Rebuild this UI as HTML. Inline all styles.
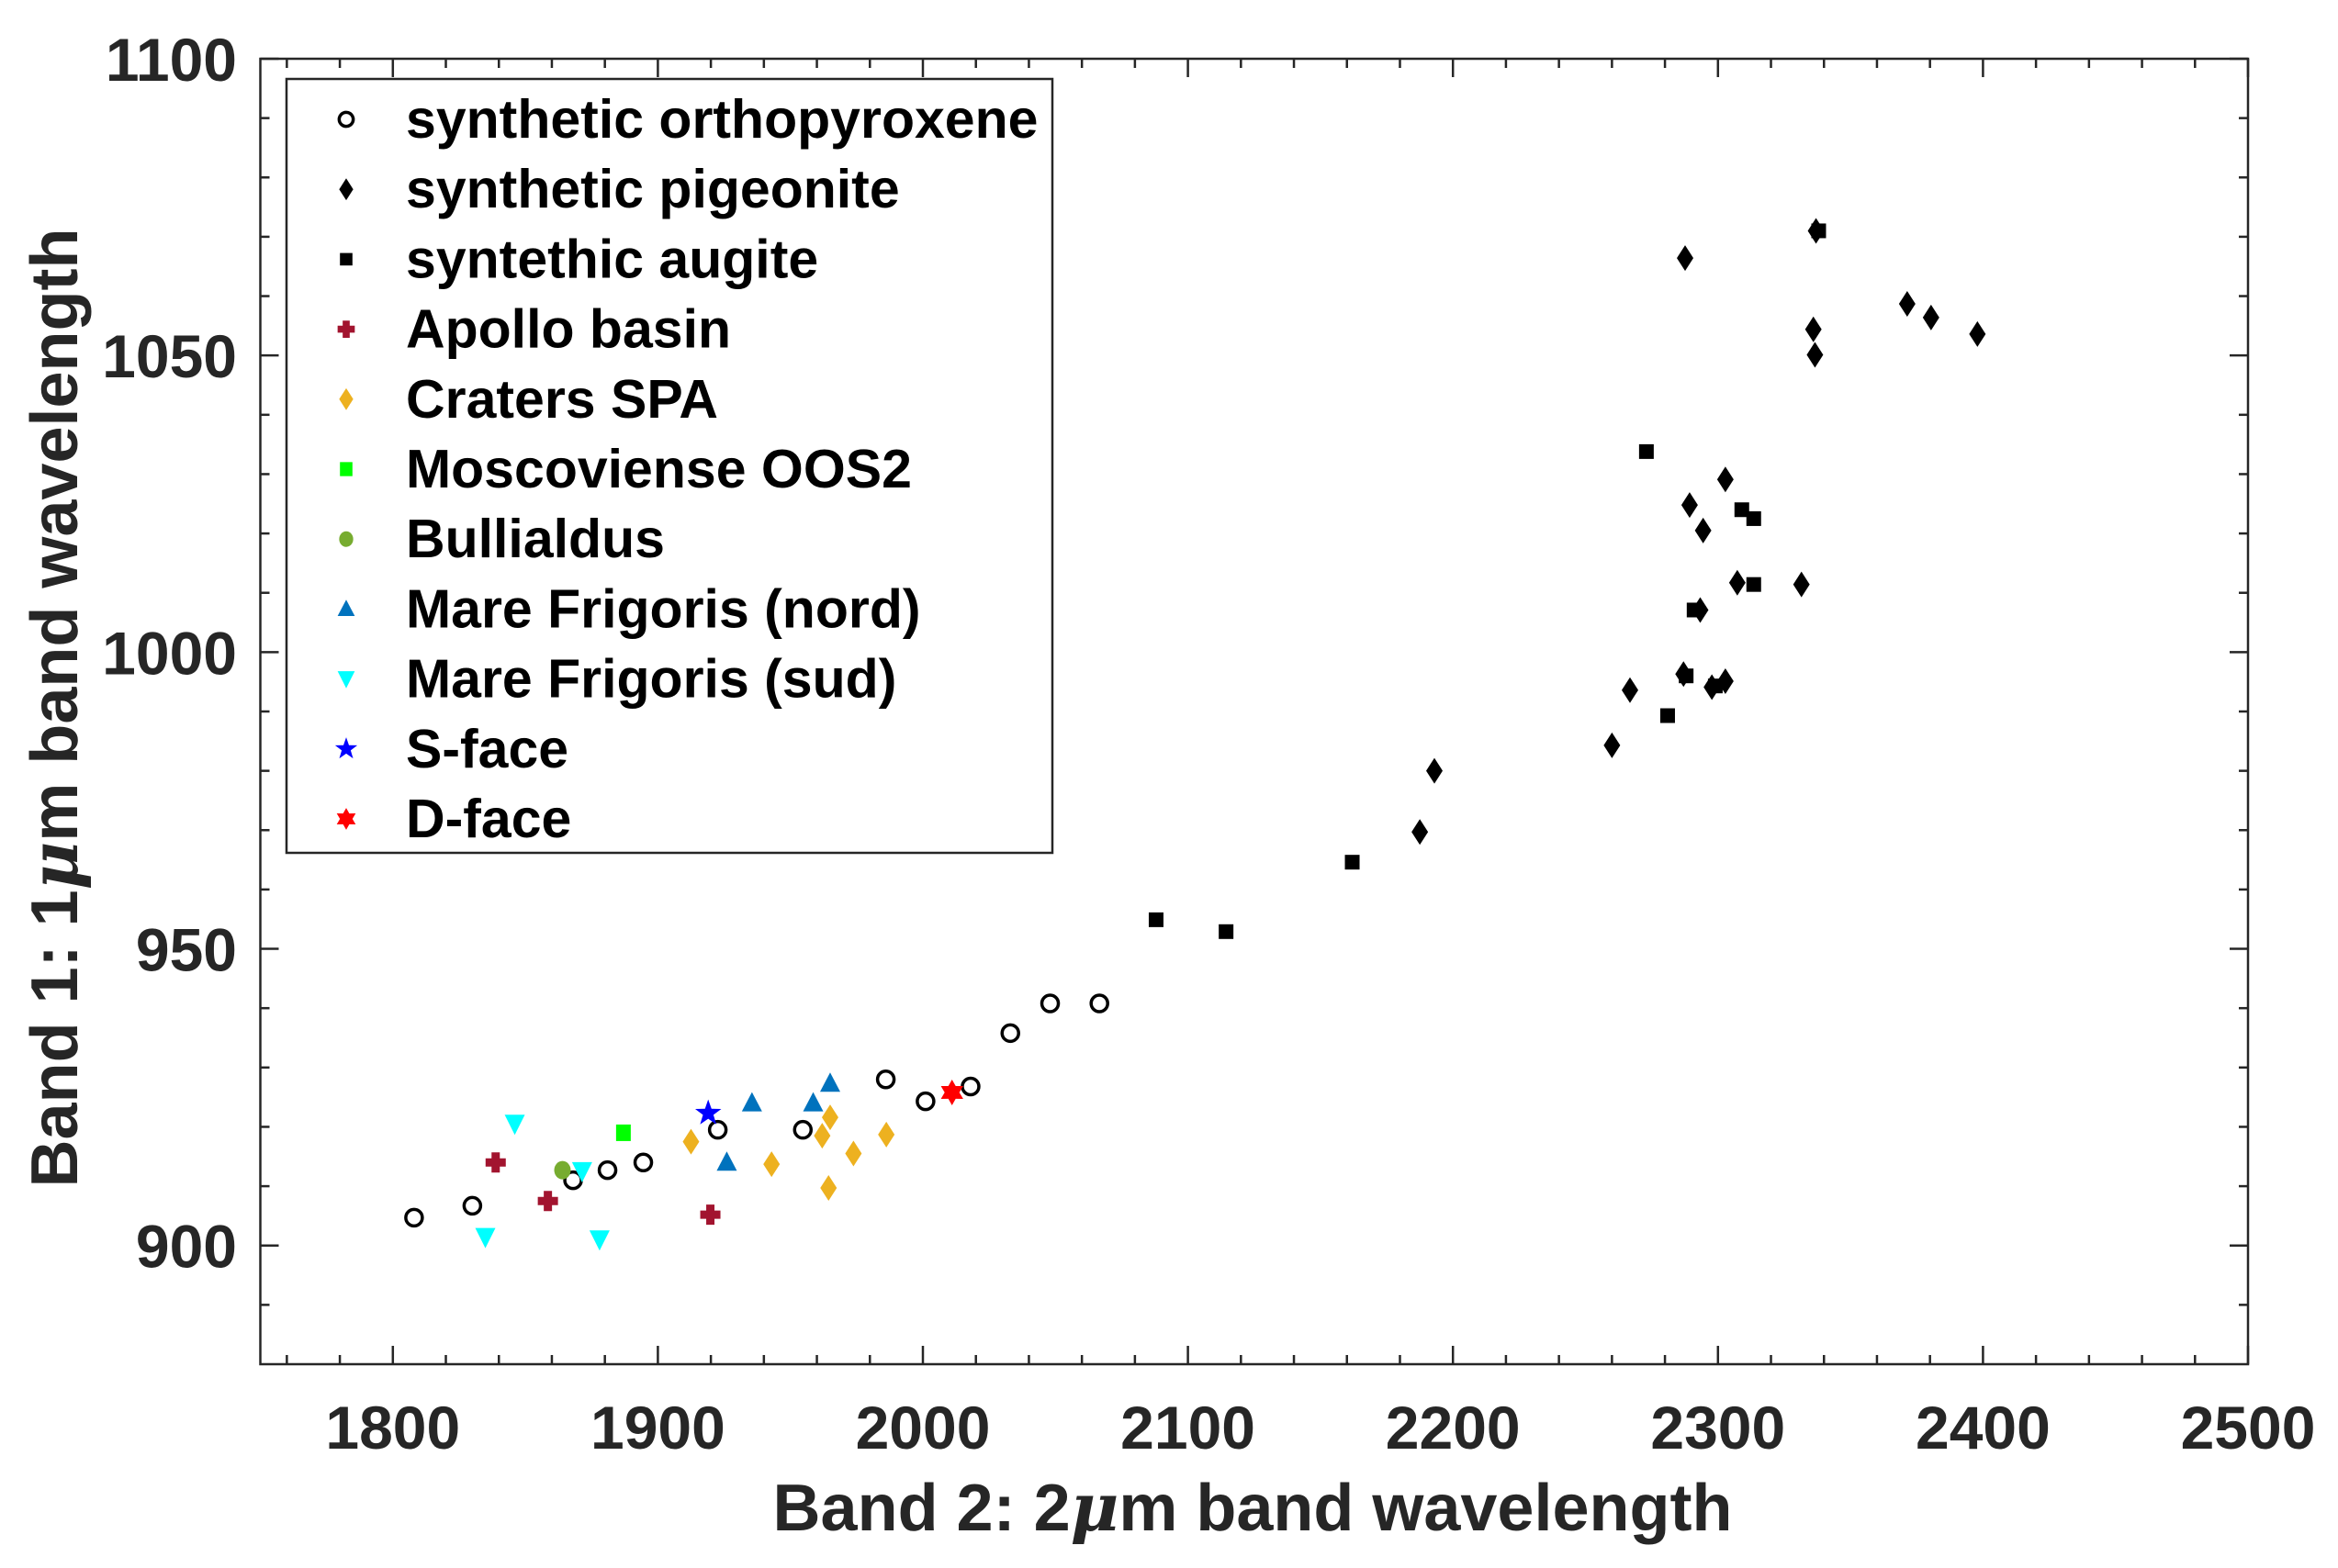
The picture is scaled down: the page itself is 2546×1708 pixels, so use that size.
<!DOCTYPE html>
<html><head><meta charset="utf-8"><style>
html,body{margin:0;padding:0;background:#fff}
svg{display:block}
text{font-family:"Liberation Sans",Arial,sans-serif;font-weight:bold}
</style></head><body>
<svg id="chart" width="2546" height="1708" viewBox="0 0 2546 1708" xmlns="http://www.w3.org/2000/svg">
<rect x="0" y="0" width="2546" height="1708" fill="#fff"/>
<g id="axes"></g>
<g id="marks"></g>
<g id="legend"></g>
<text x="1364" y="1667" font-size="72" fill="#262626" text-anchor="middle">Band 2: 2<tspan font-style="italic" font-family="DejaVu Serif, serif">μ</tspan>m band wavelength</text>
<text transform="translate(84,771) rotate(-90)" font-size="72" fill="#262626" text-anchor="middle">Band 1: 1<tspan font-style="italic" font-family="DejaVu Serif, serif">μ</tspan>m band wavelength</text>
</svg>
<script>
const xTicks=[1800,1900,2000,2100,2200,2300,2400,2500];
const yTicks=[900,950,1000,1050,1100];
const orthoX=[1808,1830,1868,1881,1894.5,1922.6,1954.7,1986,2001,2018,2033,2048,2066.6];
const orthoY=[904.7,906.7,911,912.7,914,919.5,919.5,928,924.3,926.8,935.8,940.8,940.8];
const pigX=[2287.6,2337,2336,2336.6,2371.4,2380.4,2397.9,2289.3,2302.8,2294.4,2307.3,2331.5,2293.3,2287,2302.8,2297.7,2266.8,2260,2193,2187.5];
const pigY=[1066.4,1071,1054.4,1050.1,1058.7,1056.4,1053.6,1024.8,1029.1,1020.5,1011.7,1011.4,1007.1,996.3,995.1,994.1,993.6,984.3,980,969.7];
const augX=[2273,2309,2313.5,2313.5,2291,2288,2299,2281,2162,2088,2114.4,2338];
const augY=[1033.8,1024,1022.5,1011.4,1007.1,996,994.3,989.3,964.6,954.9,952.9,1071];
const apolloX=[1838.8,1858.5,1919.8];
const apolloY=[914,907.5,905.2];
const spaX=[1912.5,1942.9,1962,1965,1973.8,1964.4,1986.2];
const spaY=[917.5,913.7,918.5,921.6,915.5,909.7,918.7];
const moscX=[1887];const moscY=[919];
const bullX=[1864];const bullY=[912.7];
const nordX=[1935.5,1958.6,1965,1926];
const nordY=[924,924,927.3,914];
const sudX=[1846,1834.9,1871.4,1878];
const sudY=[920.5,901.4,912.5,901];
const sX=[1919];const sY=[922.3];
const dX=[2011];const dY=[925.8];
const legendLabels=["synthetic orthopyroxene","synthetic pigeonite","syntethic augite","Apollo basin","Craters SPA","Moscoviense OOS2","Bullialdus","Mare Frigoris (nord)","Mare Frigoris (sud)","S-face","D-face"];

const NS="http://www.w3.org/2000/svg";
const L=283.5,R=2448,T=64,B=1486;
const X0=1750,X1=2500,Y0=880,Y1=1100;
function sx(v){return L+(v-X0)/(X1-X0)*(R-L);}
function sy(v){return B-(v-Y0)/(Y1-Y0)*(B-T);}
function mk(tag,attrs,parent){const e=document.createElementNS(NS,tag);for(const k in attrs)e.setAttribute(k,attrs[k]);parent.appendChild(e);return e;}
const axes=document.getElementById('axes');
const marks=document.getElementById('marks');
const leg=document.getElementById('legend');

let box=mk('rect',{x:L,y:T,width:R-L,height:B-T,fill:'none',stroke:'#262626','stroke-width':2.5},axes);


for(let v=1760;v<=2500;v+=20){
  const major=(v%100===0);const len=major?20:10;const x=sx(v);
  let t=mk('line',{x1:x,x2:x,y1:B,y2:B-len,stroke:'#262626','stroke-width':2.5},axes);
  
  
  let t2=mk('line',{x1:x,x2:x,y1:T,y2:T+len,stroke:'#262626','stroke-width':2.5},axes);
  
  
}
for(let v=890;v<=1100;v+=10){
  const major=(v%50===0);const len=major?20:10;const y=sy(v);
  let t=mk('line',{x1:L,x2:L+len,y1:y,y2:y,stroke:'#262626','stroke-width':2.5},axes);
  
  
  let t2=mk('line',{x1:R,x2:R-len,y1:y,y2:y,stroke:'#262626','stroke-width':2.5},axes);
  
  
}
xTicks.forEach(v=>{
  let t=mk('text',{x:sx(v),y:1578,'font-size':66,fill:'#262626','text-anchor':'middle'},axes);
  t.textContent=v;
  
  
});
yTicks.forEach(v=>{
  let t=mk('text',{x:258,y:sy(v)+24,'font-size':66,fill:'#262626','text-anchor':'end'},axes);
  t.textContent=v;
  
  
});

function star(cx,cy,ro,ri,n,rot){let p=[];for(let i=0;i<2*n;i++){const r=i%2?ri:ro;const a=rot+Math.PI*i/n;p.push((cx+r*Math.sin(a)).toFixed(1)+','+(cy-r*Math.cos(a)).toFixed(1));}return p.join(' ');}
function drawMarker(type,x,y,g,s){
  s=s||1;
  if(type==='circle')return mk('circle',{cx:x,cy:y,r:9*s,fill:'none',stroke:'#000','stroke-width':3.5},g);
  if(type==='diamond')return mk('polygon',{points:`${x},${y-14*s} ${x+9*s},${y} ${x},${y+14*s} ${x-9*s},${y}`,fill:'#000'},g);
  if(type==='square')return mk('rect',{x:x-8*s,y:y-8*s,width:16*s,height:16*s,fill:'#000'},g);
  if(type==='plus'){const w=4.5*s,h=11*s;return mk('path',{d:`M${x-w},${y-h}h${2*w}v${h-w}h${h-w}v${2*w}h${-(h-w)}v${h-w}h${-2*w}v${-(h-w)}h${-(h-w)}v${-2*w}h${h-w}z`,fill:'#A2142F'},g);}
  if(type==='ydiamond')return mk('polygon',{points:`${x},${y-14*s} ${x+9*s},${y} ${x},${y+14*s} ${x-9*s},${y}`,fill:'#EDB120'},g);
  if(type==='gsquare')return mk('rect',{x:x-8*s,y:y-9*s,width:16*s,height:18*s,fill:'#00FF00'},g);
  if(type==='gcircle')return mk('ellipse',{cx:x,cy:y,rx:9*s,ry:10*s,fill:'#77AC30'},g);
  if(type==='tri')return mk('polygon',{points:`${x},${y-12*s} ${x+11*s},${y+9*s} ${x-11*s},${y+9*s}`,fill:'#0072BD'},g);
  if(type==='dtri')return mk('polygon',{points:`${x-11*s},${y-10*s} ${x+11*s},${y-10*s} ${x},${y+12*s}`,fill:'#00FFFF'},g);
  if(type==='star')return mk('polygon',{points:star(x,y,15*s,6*s,5,0),fill:'#0000FF'},g);
  if(type==='hex')return mk('polygon',{points:star(x,y,14*s,8*s,6,0),fill:'#FF0000'},g);
}
const series=[
 ['circle',orthoX,orthoY,'orthopyroxene-point'],
 ['square',augX,augY,'augite-point'],
 ['diamond',pigX,pigY,'pigeonite-point'],
 ['plus',apolloX,apolloY,'apollo-basin-point'],
 ['ydiamond',spaX,spaY,'craters-spa-point'],
 ['gsquare',moscX,moscY,'moscoviense-point'],
 ['dtri',sudX,sudY,'frigoris-sud-point'],
 ['gcircle',bullX,bullY,'bullialdus-point'],
 ['tri',nordX,nordY,'frigoris-nord-point'],
 ['star',sX,sY,'s-face-point'],
 ['hex',dX,dY,'d-face-point']
];
series.forEach(s=>{
  s[1].forEach((v,i)=>{
    const e=drawMarker(s[0],sx(v),sy(s[2][i]),marks);
    
    
  });
});
let lb=mk('rect',{x:312,y:86,width:834,height:843,fill:'#fff',stroke:'#262626','stroke-width':2.5},leg);


const legTypes=['circle','diamond','square','plus','ydiamond','gsquare','gcircle','tri','dtri','star','hex'];
legendLabels.forEach((lab,i)=>{
  const y=130+i*76.2;
  const m=drawMarker(legTypes[i],377,y,leg,0.85);
  
  
  let t=mk('text',{x:442,y:y+20,'font-size':59,fill:'#000'},leg);
  t.textContent=lab;
  
  
});
</script>
</body></html>
